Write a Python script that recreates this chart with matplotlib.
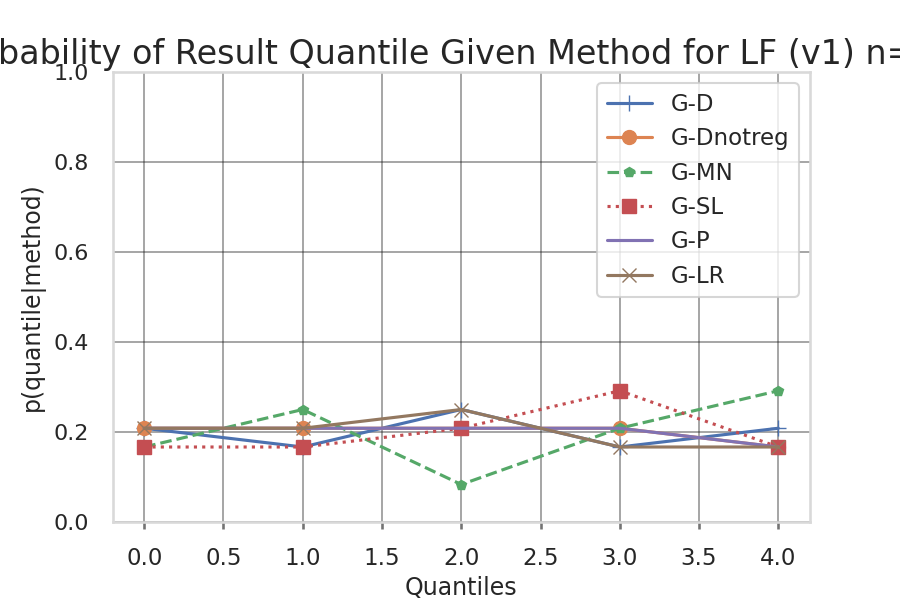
import numpy as np
import matplotlib as mpl

mpl.use("Agg")
import matplotlib.pyplot as plt
import seaborn as sns

sns.set_theme(context="talk", style="whitegrid")

# result quantile probabilities per method (counts out of 24 per method)
quantiles = [0.0, 1.0, 2.0, 3.0, 4.0]
per_method = 24
g_d = np.array([5, 4, 6, 4, 5]) / per_method
g_dnotreg = np.array([5, 5, 5, 5, 4]) / per_method
g_mn = np.array([4, 6, 2, 5, 7]) / per_method
g_sl = np.array([4, 4, 5, 7, 4]) / per_method
g_p = np.array([5, 5, 5, 5, 4]) / per_method
g_lr = np.array([5, 5, 6, 4, 4]) / per_method

fig, ax = plt.subplots(figsize=(9, 6), dpi=100)
fig.subplots_adjust(left=0.125, right=0.9, top=0.88, bottom=0.13)

ax.plot(quantiles, g_d, marker="+", markersize=12, label="G-D")
ax.plot(quantiles, g_dnotreg, marker="o", markersize=10, label="G-Dnotreg")
ax.plot(quantiles, g_mn, marker="p", markersize=7, linestyle="--", label="G-MN")
ax.plot(quantiles, g_sl, marker="s", markersize=10, linestyle=":", label="G-SL")
ax.plot(quantiles, g_p, label="G-P")
ax.plot(quantiles, g_lr, marker="x", markersize=10, label="G-LR")

ax.set_ylim(0, 1.0)
ax.grid(True, color="k", alpha=0.5, linewidth=1.1)
for side in ax.spines.values():
    side.set_color("0.85")
ax.tick_params(axis="x", labelsize=16.5, length=5, color="0.45",
               bottom=True, pad=13)
ax.tick_params(axis="y", labelsize=16, left=False, length=0, pad=17)
ax.set_xlabel("Quantiles", fontsize=17)
ax.set_ylabel("p(quantile|method)", fontsize=17, labelpad=6)
ax.set_title("Probability of Result Quantile Given Method for LF (v1) n=144",
             fontsize=24)
ax.legend(loc="upper right", fontsize=16.5)

fig.savefig("out.png", dpi=100)
plt.close()
